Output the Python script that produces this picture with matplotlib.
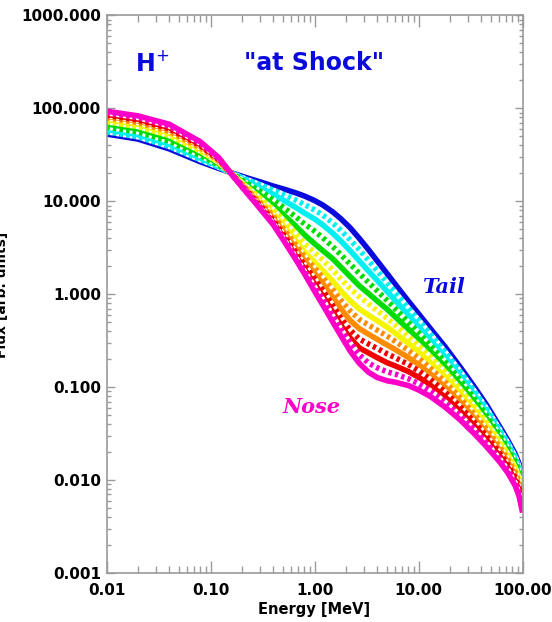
import matplotlib
matplotlib.use("Agg")
import matplotlib.pyplot as plt
from matplotlib.ticker import LogLocator, NullFormatter, FixedLocator, FixedFormatter

plt.rcParams["font.family"] = ["DejaVu Sans"]

# energy grid [MeV]
energy = [0.01, 0.02, 0.04, 0.08, 0.12, 0.165, 0.22, 0.3, 0.4, 0.5, 0.65, 0.8,
          1.0, 1.2, 1.5, 1.8, 2.2, 2.7, 3.3, 4.0, 5.0, 6.0, 8.0, 10, 13, 18,
          25, 35, 45, 60, 72, 85, 93, 100]

# spectra, from the hardest (blue, "tail") to the softest (magenta, "nose")
flux_blue_s = [53.0, 46.8, 36.7, 26.6, 22.6, 20.0, 18.0, 16.2, 14.6, 13.6, 12.4, 11.4,
               10.2, 9.12, 7.67, 6.46, 5.19, 3.98, 3.02, 2.29, 1.66, 1.27, 0.841, 0.617,
               0.427, 0.272, 0.166, 0.0977, 0.0646, 0.0380, 0.0269, 0.0191, 0.0148, 0.0105]
flux_cyan_d = [56.1, 49.5, 39.0, 28.0, 23.3, 19.8, 17.3, 15.1, 13.2, 11.9, 10.4, 9.24,
               8.08, 7.12, 5.84, 4.83, 3.84, 3.01, 2.31, 1.79, 1.33, 1.04, 0.707, 0.527,
               0.371, 0.240, 0.149, 0.0888, 0.0592, 0.0354, 0.0252, 0.0179, 0.0138, 0.00976]
flux_cyan_s = [59.0, 52.2, 41.3, 29.2, 23.8, 19.7, 16.6, 14.0, 11.9, 10.3, 8.69, 7.48,
               6.46, 5.58, 4.52, 3.72, 2.94, 2.28, 1.78, 1.41, 1.07, 0.850, 0.593, 0.450,
               0.322, 0.212, 0.133, 0.0806, 0.0543, 0.0329, 0.0235, 0.0167, 0.0129, 0.00908]
flux_green_d = [63.1, 55.9, 44.4, 31.0, 24.6, 19.5, 15.8, 12.8, 10.4, 8.65, 6.91, 5.71,
                4.78, 4.06, 3.24, 2.65, 2.11, 1.67, 1.34, 1.09, 0.856, 0.694, 0.498, 0.385,
                0.280, 0.187, 0.120, 0.0733, 0.0498, 0.0305, 0.0220, 0.0157, 0.0121, 0.00846]
flux_green_s = [67.9, 60.3, 48.0, 33.1, 25.4, 19.4, 15.0, 11.6, 9.07, 7.24, 5.50, 4.36,
                3.50, 2.95, 2.40, 1.95, 1.55, 1.23, 1.02, 0.847, 0.687, 0.568, 0.419, 0.329,
                0.244, 0.165, 0.107, 0.0666, 0.0457, 0.0284, 0.0206, 0.0147, 0.0113, 0.00788]
flux_yellow_d = [71.9, 63.8, 51.1, 34.8, 26.1, 19.2, 14.5, 10.8, 8.16, 6.30, 4.59, 3.52,
                 2.80, 2.33, 1.82, 1.45, 1.15, 0.940, 0.787, 0.667, 0.550, 0.463, 0.351, 0.281,
                 0.212, 0.146, 0.0960, 0.0605, 0.0419, 0.0264, 0.0192, 0.0137, 0.0106, 0.00734]
flux_yellow_s = [76.0, 67.6, 54.3, 36.5, 26.8, 19.1, 13.9, 10.0, 7.35, 5.48, 3.84, 2.85,
                 2.22, 1.80, 1.38, 1.08, 0.851, 0.693, 0.596, 0.519, 0.442, 0.379, 0.295, 0.240,
                 0.184, 0.129, 0.0861, 0.0550, 0.0385, 0.0245, 0.0180, 0.0129, 0.00989, 0.00684]
flux_orange_d = [79.3, 70.4, 56.7, 37.8, 27.3, 19.0, 13.6, 9.63, 6.94, 5.08, 3.48, 2.54,
                 1.91, 1.51, 1.12, 0.859, 0.662, 0.535, 0.467, 0.411, 0.354, 0.310, 0.248, 0.205,
                 0.160, 0.114, 0.0772, 0.0499, 0.0353, 0.0228, 0.0168, 0.0121, 0.00925, 0.00637]
flux_orange_s = [82.4, 73.3, 59.1, 39.1, 27.8, 18.9, 13.4, 9.32, 6.62, 4.77, 3.20, 2.30,
                 1.68, 1.30, 0.925, 0.692, 0.522, 0.426, 0.372, 0.328, 0.284, 0.253, 0.208, 0.175,
                 0.139, 0.100, 0.0692, 0.0453, 0.0324, 0.0212, 0.0157, 0.0113, 0.00864, 0.00593]
flux_red_d = [84.3, 75.0, 60.6, 39.9, 28.1, 18.9, 13.1, 8.95, 6.25, 4.42, 2.90, 2.05,
              1.47, 1.10, 0.750, 0.551, 0.412, 0.329, 0.292, 0.261, 0.228, 0.207, 0.175, 0.150,
              0.121, 0.0886, 0.0620, 0.0412, 0.0297, 0.0197, 0.0147, 0.0106, 0.00808, 0.00553]
flux_red_s = [86.3, 76.7, 62.1, 40.7, 28.4, 18.8, 12.9, 8.66, 5.96, 4.15, 2.68, 1.86,
              1.30, 0.957, 0.640, 0.461, 0.338, 0.264, 0.234, 0.208, 0.183, 0.169, 0.147, 0.128,
              0.105, 0.0782, 0.0556, 0.0375, 0.0272, 0.0183, 0.0138, 0.00993, 0.00756, 0.00515]
flux_magenta_d = [89.7, 79.9, 64.8, 42.2, 29.0, 18.7, 12.7, 8.49, 5.79, 4.00, 2.55, 1.76,
                  1.20, 0.873, 0.581, 0.417, 0.298, 0.223, 0.182, 0.162, 0.146, 0.138, 0.123, 0.109,
                  0.0913, 0.0690, 0.0498, 0.0340, 0.0250, 0.0170, 0.0129, 0.00929, 0.00706, 0.00480]
flux_magenta_s = [93.3, 83.2, 67.6, 43.7, 29.5, 18.6, 12.6, 8.32, 5.62, 3.85, 2.43, 1.66,
                  1.08, 0.767, 0.501, 0.355, 0.245, 0.180, 0.145, 0.127, 0.117, 0.113, 0.104, 0.0933,
                  0.0794, 0.0610, 0.0447, 0.0309, 0.0229, 0.0158, 0.0120, 0.00871, 0.00661, 0.00447]

x_ticks = [0.01, 0.1, 1, 10, 100]
x_tick_labels = ["0.01", "0.10", "1.00", "10.00", "100.00"]
y_ticks = [0.001, 0.01, 0.1, 1, 10, 100, 1000]
y_tick_labels = ["0.001", "0.010", "0.100", "1.000", "10.000", "100.000", "1000.000"]

curves = [
    (flux_blue_s, "#0a0adc", "-"),
    (flux_cyan_d, "#00f0f0", ":"),
    (flux_cyan_s, "#00f0f0", "-"),
    (flux_green_d, "#00dc00", ":"),
    (flux_green_s, "#00dc00", "-"),
    (flux_yellow_d, "#f5f500", ":"),
    (flux_yellow_s, "#f5f500", "-"),
    (flux_orange_d, "#ff8c00", ":"),
    (flux_orange_s, "#ff8c00", "-"),
    (flux_red_d, "#f00000", ":"),
    (flux_red_s, "#f00000", "-"),
    (flux_magenta_d, "#ff00c8", ":"),
    (flux_magenta_s, "#ff00c8", "-"),
]

fig = plt.figure(figsize=(5.52, 6.22), dpi=100)
ax = fig.add_axes([0.193, 0.0788, 0.7536, 0.8963])

for flux, color, style in curves:
    if style == "-":
        ax.plot(energy, flux, color=color, lw=4, solid_capstyle="butt",
                solid_joinstyle="round")
    else:
        ax.plot(energy, flux, color=color, lw=4, linestyle=(0, (0.6, 0.6)),
                gapcolor="white")

ax.set_xscale("log")
ax.set_yscale("log")
ax.set_xlim(0.01, 100)
ax.set_ylim(0.001, 1000)

ax.xaxis.set_major_locator(FixedLocator(x_ticks))
ax.xaxis.set_major_formatter(FixedFormatter(x_tick_labels))
ax.yaxis.set_major_locator(FixedLocator(y_ticks))
ax.yaxis.set_major_formatter(FixedFormatter(y_tick_labels))
for axis in (ax.xaxis, ax.yaxis):
    axis.set_minor_locator(LogLocator(base=10, subs=range(2, 10), numticks=20))
    axis.set_minor_formatter(NullFormatter())

grey = "#9a9a9a"
for sp in ax.spines.values():
    sp.set_color(grey)
    sp.set_linewidth(1.2)
ax.tick_params(axis="both", which="both", direction="in", top=True, right=True,
               color=grey, width=1.0)
ax.tick_params(axis="x", which="major", length=8.5, pad=7)
ax.tick_params(axis="x", which="minor", length=5)
ax.tick_params(axis="y", which="major", length=6, pad=4)
ax.tick_params(axis="y", which="minor", length=3.2)
for lab in ax.get_xticklabels() + ax.get_yticklabels():
    lab.set_fontsize(11)
    lab.set_fontweight("bold")

ax.set_xlabel("Energy [MeV]", fontsize=10.5, fontweight="bold", labelpad=3)
# y title sits mostly outside the left edge of the canvas
fig.text(0.016, 0.526, "Flux [arb. units]", rotation=90, ha="right", va="center",
         fontsize=10, fontweight="bold")

ax.text(0.109, 0.914, "H$^{+}$", transform=ax.transAxes, ha="center", va="center",
        color="#0a0adc", fontsize=17, fontweight="bold")
ax.text(0.499, 0.914, '"at Shock"', transform=ax.transAxes, ha="center", va="center",
        color="#0a0adc", fontsize=17, fontweight="bold")
ax.text(0.809, 0.513, "Tail", transform=ax.transAxes, ha="center", va="center",
        color="#0a0adc", fontsize=15, fontweight="bold", style="italic",
        family="DejaVu Serif")
ax.text(0.494, 0.298, "Nose", transform=ax.transAxes, ha="center", va="center",
        color="#ff00c8", fontsize=15, fontweight="bold", style="italic",
        family="DejaVu Serif")

fig.savefig("out.png", dpi=100)
